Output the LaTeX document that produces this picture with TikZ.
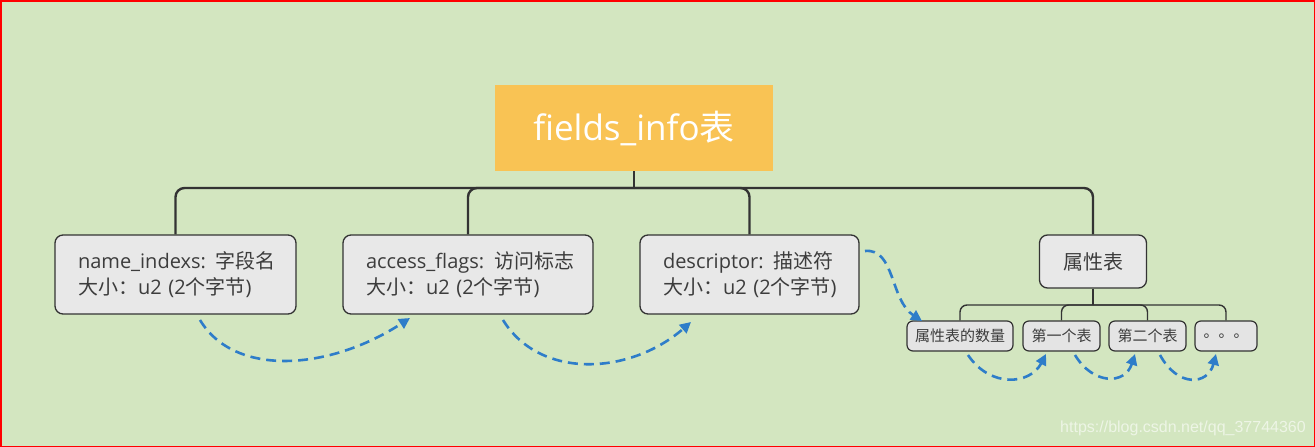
\documentclass[tikz,border=0pt]{standalone}
\usepackage{fontspec}
\setmainfont{Open Sans}
\newfontfamily\cjk{Noto Sans CJK SC}
\newfontfamily\wmfont{Liberation Sans}
\usetikzlibrary{arrows.meta}
\definecolor{bg}{RGB}{211,230,192}
\definecolor{rootfill}{RGB}{249,195,84}
\definecolor{boxfill}{RGB}{232,232,232}
\definecolor{subfill}{RGB}{228,228,228}
\definecolor{edge}{RGB}{51,51,51}
\definecolor{txt}{RGB}{60,60,60}
\definecolor{flow}{RGB}{46,125,201}
\begin{document}
\begin{tikzpicture}[x=1pt,y=-1pt,
  rootbox/.style={fill=rootfill, minimum width=278pt, minimum height=86pt, inner sep=0pt, text=white, font=\fontsize{35}{40}\selectfont},
  fieldbox/.style={draw=edge, line width=1.3pt, fill=boxfill, rounded corners=8pt, minimum height=79pt, inner xsep=23pt, inner ysep=0pt, align=left, text=txt, font=\fontsize{20}{26}\selectfont},
  attrbox/.style={draw=edge, line width=1.3pt, fill=boxfill, rounded corners=8pt, minimum width=107pt, minimum height=53pt, inner sep=0pt, text=txt, font=\fontsize{20}{22}\selectfont},
  subbox/.style={draw=edge, line width=1.2pt, fill=subfill, rounded corners=6pt, minimum height=30pt, inner sep=0pt, text=txt, font=\fontsize{15}{17}\selectfont},
  tree/.style={draw=edge, line width=2.4pt, rounded corners=9pt},
  subtree/.style={draw=edge, line width=1.4pt, rounded corners=7pt},
  flowarrow/.style={draw=flow, line width=2.6pt, dash pattern=on 10pt off 6pt, -{Triangle[length=11pt,width=11pt]}}
]
\fill[bg] (0,0) rectangle (1315,447);
\draw[red, line width=1.5pt] (0.75,0.75) rectangle (1314.25,446.25);
\useasboundingbox (0,0) rectangle (1315,447);

% nodes
\node[rootbox] (root) at (634,128) {fields\_info{\cjk 表}};
\node[fieldbox, text width=195pt] (n1) at (175.5,274.5) {\mbox{name\_indexs: {\cjk 字段名}}\\\mbox{{\cjk 大小：}u2 (2{\cjk 个字节})}};
\node[fieldbox, text width=204pt] (n2) at (468,274.5) {\mbox{access\_flags: {\cjk 访问标志}}\\\mbox{{\cjk 大小：}u2 (2{\cjk 个字节})}};
\node[fieldbox, text width=173pt] (n3) at (749.5,274.5) {\mbox{descriptor: {\cjk 描述符}}\\\mbox{{\cjk 大小：}u2 (2{\cjk 个字节})}};
\node[attrbox] (attr) at (1093,261.5) {\cjk 属性表};
\node[subbox, minimum width=106pt] (s1) at (960,336) {\cjk 属性表的数量};
\node[subbox, minimum width=77pt] (s2) at (1061.5,336) {\cjk 第一个表};
\node[subbox, minimum width=77pt] (s3) at (1147.5,336) {\cjk 第二个表};
\node[subbox, minimum width=62pt] (s4) at (1226,336) {\cjk 。。。};

% tree connectors
\coordinate (bus) at (634,188);
\coordinate (subbus) at (1093,305);
\draw[tree] (root.south) -- (bus);
\draw[tree] (n1.north) |- (bus);
\draw[tree] (n2.north) |- (bus);
\draw[tree] (n3.north) |- (bus);
\draw[tree] (attr.north) |- (bus);
\draw[subtree] (attr.south) -- (subbus);
\draw[subtree] (s1.north) |- (subbus);
\draw[subtree] (s2.north) |- (subbus);
\draw[subtree] (s3.north) |- (subbus);
\draw[subtree] (s4.north) |- (subbus);

% flow arrows
\coordinate (a1s) at (200,320);
\coordinate (a1e) at (410,318);
\coordinate (a2s) at (503,320);
\coordinate (a2e) at (691,322);
\coordinate (a3s) at (865,251);
\coordinate (a3e) at (922,321);
\coordinate (a4s) at (968,355);
\coordinate (a4e) at (1046,354);
\coordinate (a5s) at (1075,355);
\coordinate (a5e) at (1135,354);
\coordinate (a6s) at (1160,355);
\coordinate (a6e) at (1216,354);
\draw[flowarrow] (a1s) .. controls (235,378) and (330,370) .. (a1e);
\draw[flowarrow] (a2s) .. controls (540,380) and (630,375) .. (a2e);
\draw[flowarrow] (a3s) .. controls (895,248) and (890,300) .. (a3e);
\draw[flowarrow] (a4s) .. controls (990,388) and (1030,385) .. (a4e);
\draw[flowarrow] (a5s) .. controls (1093,385) and (1125,385) .. (a5e);
\draw[flowarrow] (a6s) .. controls (1178,388) and (1208,385) .. (a6e);

% watermark
\node[text=white, opacity=0.6, font=\wmfont\fontsize{16}{18}\selectfont, inner sep=0pt] (wm) at (1183,428) {https://blog.csdn.net/qq\_37744360};
\end{tikzpicture}
\end{document}
